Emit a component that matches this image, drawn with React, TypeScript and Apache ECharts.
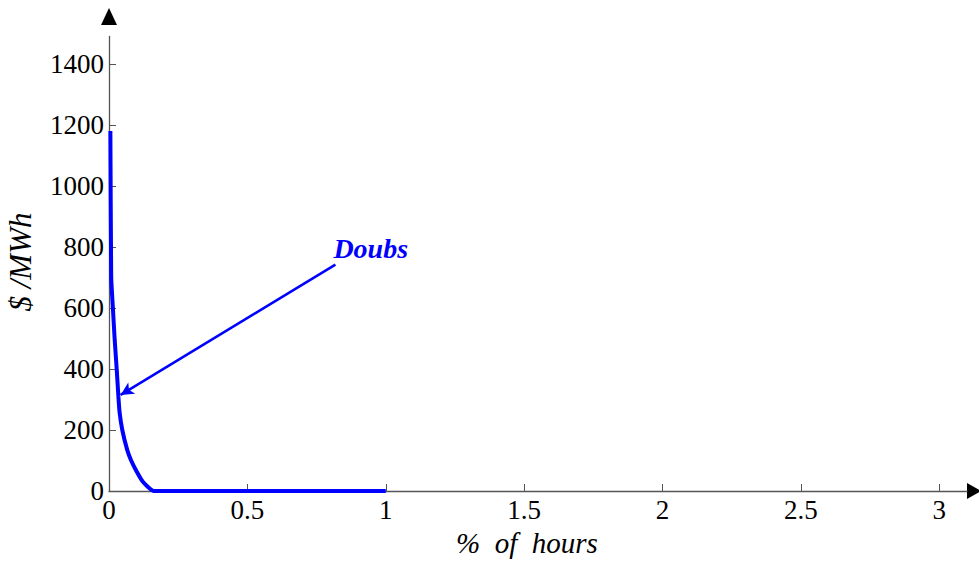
import React, { useEffect, useRef } from "react";
import * as echarts from "echarts";

// Price-duration curve for the Doubs zone
const hoursPct = [0.005, 0.0062, 0.0072, 0.0083, 0.0145, 0.0206, 0.028, 0.034, 0.038, 0.048, 0.066, 0.08, 0.097, 0.118, 0.133, 0.145, 0.155, 0.163, 1.0];
const priceValues = [1180, 950, 800, 692, 593, 495, 397, 309, 260, 200, 134, 100, 69, 36, 20, 10, 3, 0, 0];

const xTicks = [0, 0.5, 1, 1.5, 2, 2.5, 3];
const yTicks = [0, 200, 400, 600, 800, 1000, 1200, 1400];

// annotation: label anchor and arrow tip, in data units
const labelPoint = [0.818, 742];
const arrowTip = [0.042, 315];
const labelText = "Doubs";

const serif = "Liberation Serif";
const axisColor = "#555";

export default function App() {
  const ref = useRef<HTMLDivElement>(null);

  useEffect(() => {
    if (!ref.current) return;
    const chart = echarts.init(ref.current, undefined, { renderer: "svg" });
    const axisCommon = {
      type: "value" as const,
      splitLine: { show: false },
      axisTick: { show: true, inside: true, length: 7, lineStyle: { color: axisColor, width: 1 } },
      axisLabel: {
        color: "#000",
        fontFamily: serif,
        fontSize: 27,
        formatter: (v: number) => String(v),
      },
    };
    chart.setOption({
      animation: false,
      backgroundColor: "#fff",
      grid: { left: 109, right: 12, top: 36.5, bottom: 70, containLabel: false },
      xAxis: {
        ...axisCommon,
        min: 0,
        max: 3.1,
        interval: 0.5,
        axisLine: { show: true, onZero: false, lineStyle: { color: axisColor, width: 1.3 } },
        axisTick: { ...axisCommon.axisTick, customValues: xTicks },
        axisLabel: { ...axisCommon.axisLabel, margin: 5, customValues: xTicks },
      },
      yAxis: {
        ...axisCommon,
        min: 0,
        max: 1490,
        interval: 200,
        axisLine: { show: true, onZero: false, lineStyle: { color: axisColor, width: 1.3 } },
        axisTick: { ...axisCommon.axisTick, customValues: yTicks },
        axisLabel: { ...axisCommon.axisLabel, margin: 5, customValues: yTicks },
      },
      graphic: [
        // axis arrowheads
        { type: "polygon", shape: { points: [[109, 8], [101, 25], [117, 25]] }, style: { fill: "#000" } },
        { type: "polygon", shape: { points: [[981, 491], [967, 483], [967, 499]] }, style: { fill: "#000" } },
        {
          type: "text",
          x: 20,
          y: 262,
          rotation: Math.PI / 2,
          style: {
            text: "$ /MWh",
            fill: "#000",
            fontFamily: serif,
            fontStyle: "italic",
            fontSize: 31,
            align: "center",
            verticalAlign: "middle",
          },
        },
        {
          type: "text",
          x: 527,
          y: 543,
          style: {
            text: "%  of  hours",
            fill: "#000",
            fontFamily: serif,
            fontStyle: "italic",
            fontSize: 29,
            align: "center",
            verticalAlign: "middle",
          },
        },
      ],
      series: [
        {
          type: "line",
          data: hoursPct.map((x, i) => [x, priceValues[i]]),
          showSymbol: false,
          smooth: 0.15,
          lineStyle: { color: "#0000ff", width: 4 },
          markLine: {
            silent: true,
            symbol: ["none", "arrow"],
            symbolSize: [10, 13],
            lineStyle: { color: "#0000ff", width: 2.5, type: "solid" },
            label: { show: false },
            data: [[{ coord: labelPoint }, { coord: arrowTip }]],
          },
          markPoint: {
            silent: true,
            symbol: "circle",
            symbolSize: 0,
            data: [
              {
                coord: labelPoint,
                label: {
                  show: true,
                  formatter: labelText,
                  position: [-2, -2],
                  align: "left",
                  verticalAlign: "bottom",
                  color: "#0000ff",
                  fontFamily: serif,
                  fontStyle: "italic",
                  fontWeight: "bold",
                  fontSize: 28,
                },
              },
            ],
          },
        },
      ],
    });
    return () => chart.dispose();
  }, []);

  return (
    <div
      ref={ref}
      style={{ position: "fixed", left: 0, top: 0, width: 979, height: 561 }}
    />
  );
}
